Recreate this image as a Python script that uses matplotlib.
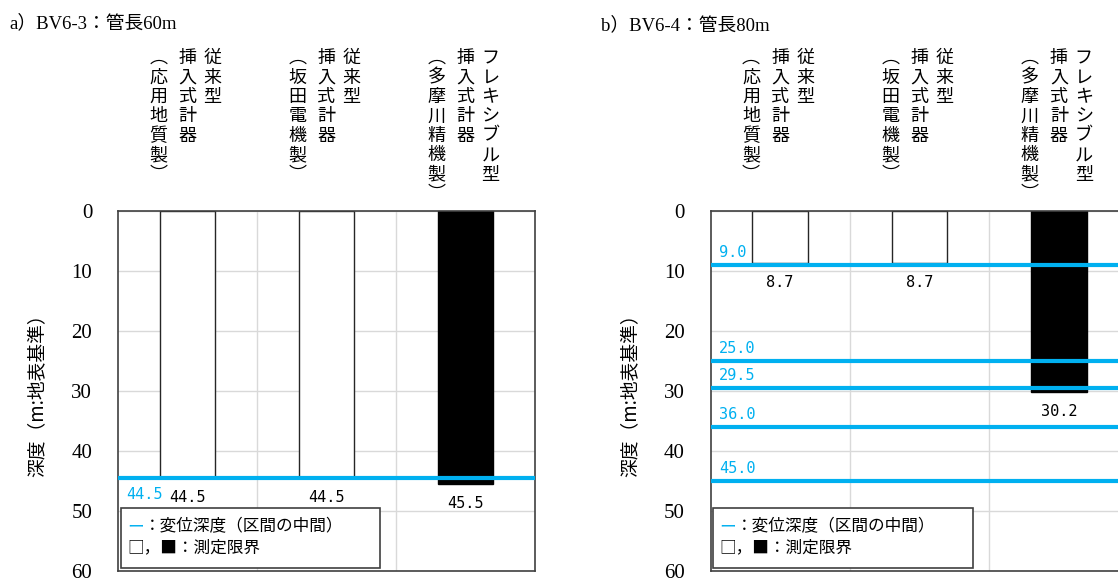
import matplotlib
matplotlib.use("Agg")
import matplotlib.pyplot as plt
from matplotlib.patches import Rectangle

plt.rcParams['font.family'] = ['Noto Sans CJK JP', 'DejaVu Sans']

# category labels: columns of vertical text, right to left
cat_columns = [
    ["従来型", "挿入式計器", "︵応用地質製︶"],
    ["従来型", "挿入式計器", "︵坂田電機製︶"],
    ["フレキシブル型", "挿入式計器", "︵多摩川精機製︶"],
]

# a) BV6-3
title_a = "a）BV6-3：管長60m"
limit_a = [44.5, 44.5, 45.5]   # measurement limit (m)
disp_a = [44.5]                # displacement depth (m)

# b) BV6-4
title_b = "b）BV6-4：管長80m"
limit_b = [8.7, 8.7, 30.2]
disp_b = [9.0, 25.0, 29.5, 36.0, 45.0]

yticks = [0, 10, 20, 30, 40, 50, 60]
ylabel = "深度（m:地表基準）"
legend_mark = "ー"
legend_line1 = "：変位深度（区間の中間）"
legend_line2 = "□，■：測定限界"

BLUE = '#00B0F0'
W, H = 1118, 579
PITCH = 14.0            # pt between stacked characters
COL_DX = [18, 0, -21]   # pt offset of each text column from category centre
TOP = 106.5             # pt, first baseline above axes top


def draw_panel(ax, limits, disps, blue_dy):
    x = list(range(len(limits)))
    fills = ['white', 'white', 'black']
    edges = ['#262626', '#262626', 'black']
    ax.bar(x, limits, width=0.4, color=fills, edgecolor=edges, linewidth=1, zorder=2)
    ax.hlines(disps, -0.5, 2.5, color=BLUE, lw=3, zorder=3)

    for d in disps:
        ax.annotate(f"{d:.1f}", xy=(-0.5, d), xytext=(6, blue_dy), textcoords='offset points',
                    ha='left', va='center', color=BLUE, fontsize=11,
                    family='DejaVu Sans Mono', zorder=4)
    for i, v in enumerate(limits):
        ax.annotate(f"{v:.1f}", xy=(i, v), xytext=(0, -14), textcoords='offset points',
                    ha='center', va='center', fontsize=11, family='DejaVu Sans Mono', zorder=4)

    # vertical category labels
    for i, cols in enumerate(cat_columns):
        for dx, col in zip(COL_DX, cols):
            for k, ch in enumerate(col):
                ax.annotate(ch, xy=(i, 1), xycoords=('data', 'axes fraction'),
                            xytext=(dx, TOP - k * PITCH), textcoords='offset points',
                            ha='center', va='baseline', fontsize=13, annotation_clip=False)

    ax.set_xlim(-0.5, 2.5)
    ax.set_ylim(60, 0)
    ax.set_yticks(yticks)
    ax.set_xticks([])
    ax.set_xticks([0.5, 1.5], minor=True)
    ax.grid(True, which='major', axis='y', color='#D9D9D9', lw=1)
    ax.grid(True, which='minor', axis='x', color='#D9D9D9', lw=1)
    ax.set_axisbelow(True)
    ax.tick_params(which='both', length=0, pad=18.5)
    for lbl in ax.get_yticklabels():
        lbl.set_fontfamily('Liberation Serif')
        lbl.set_fontsize(15)
    for s in ax.spines.values():
        s.set_color('#404040')
        s.set_linewidth(1.2)

    ax.set_ylabel(ylabel, fontsize=13.5)
    ax.yaxis.set_label_coords(-0.168, 0.5)

    # legend box
    ax.add_patch(Rectangle((0.006, 0.008), 0.623, 0.167, transform=ax.transAxes,
                           facecolor='white', edgecolor='#404040', lw=1.2, zorder=5))
    mark = ax.text(0.022, 0.123, legend_mark, transform=ax.transAxes, color=BLUE,
                   fontsize=12, ha='left', va='center', zorder=6)
    ax.annotate(legend_line1, xy=(1, 0.5), xycoords=mark, ha='left', va='center',
                fontsize=12, zorder=6)
    ax.text(0.022, 0.064, legend_line2, transform=ax.transAxes, fontsize=12,
            ha='left', va='center', zorder=6)


fig = plt.figure(figsize=(W / 100, H / 100), dpi=100)
ax_a = fig.add_axes([118 / W, 8 / H, 417 / W, 360 / H])
ax_b = fig.add_axes([710.5 / W, 8 / H, 418 / W, 360 / H])

draw_panel(ax_a, limit_a, disp_a, -12)
draw_panel(ax_b, limit_b, disp_b, 9)

title_font = ['Liberation Serif', 'Noto Sans CJK JP']
fig.text(9 / W, 1 - 23 / H, title_a, family=title_font, fontsize=13.5, va='center', ha='left')
fig.text(601 / W, 1 - 25 / H, title_b, family=title_font, fontsize=13.5, va='center', ha='left')

fig.savefig('out.png', dpi=100)
